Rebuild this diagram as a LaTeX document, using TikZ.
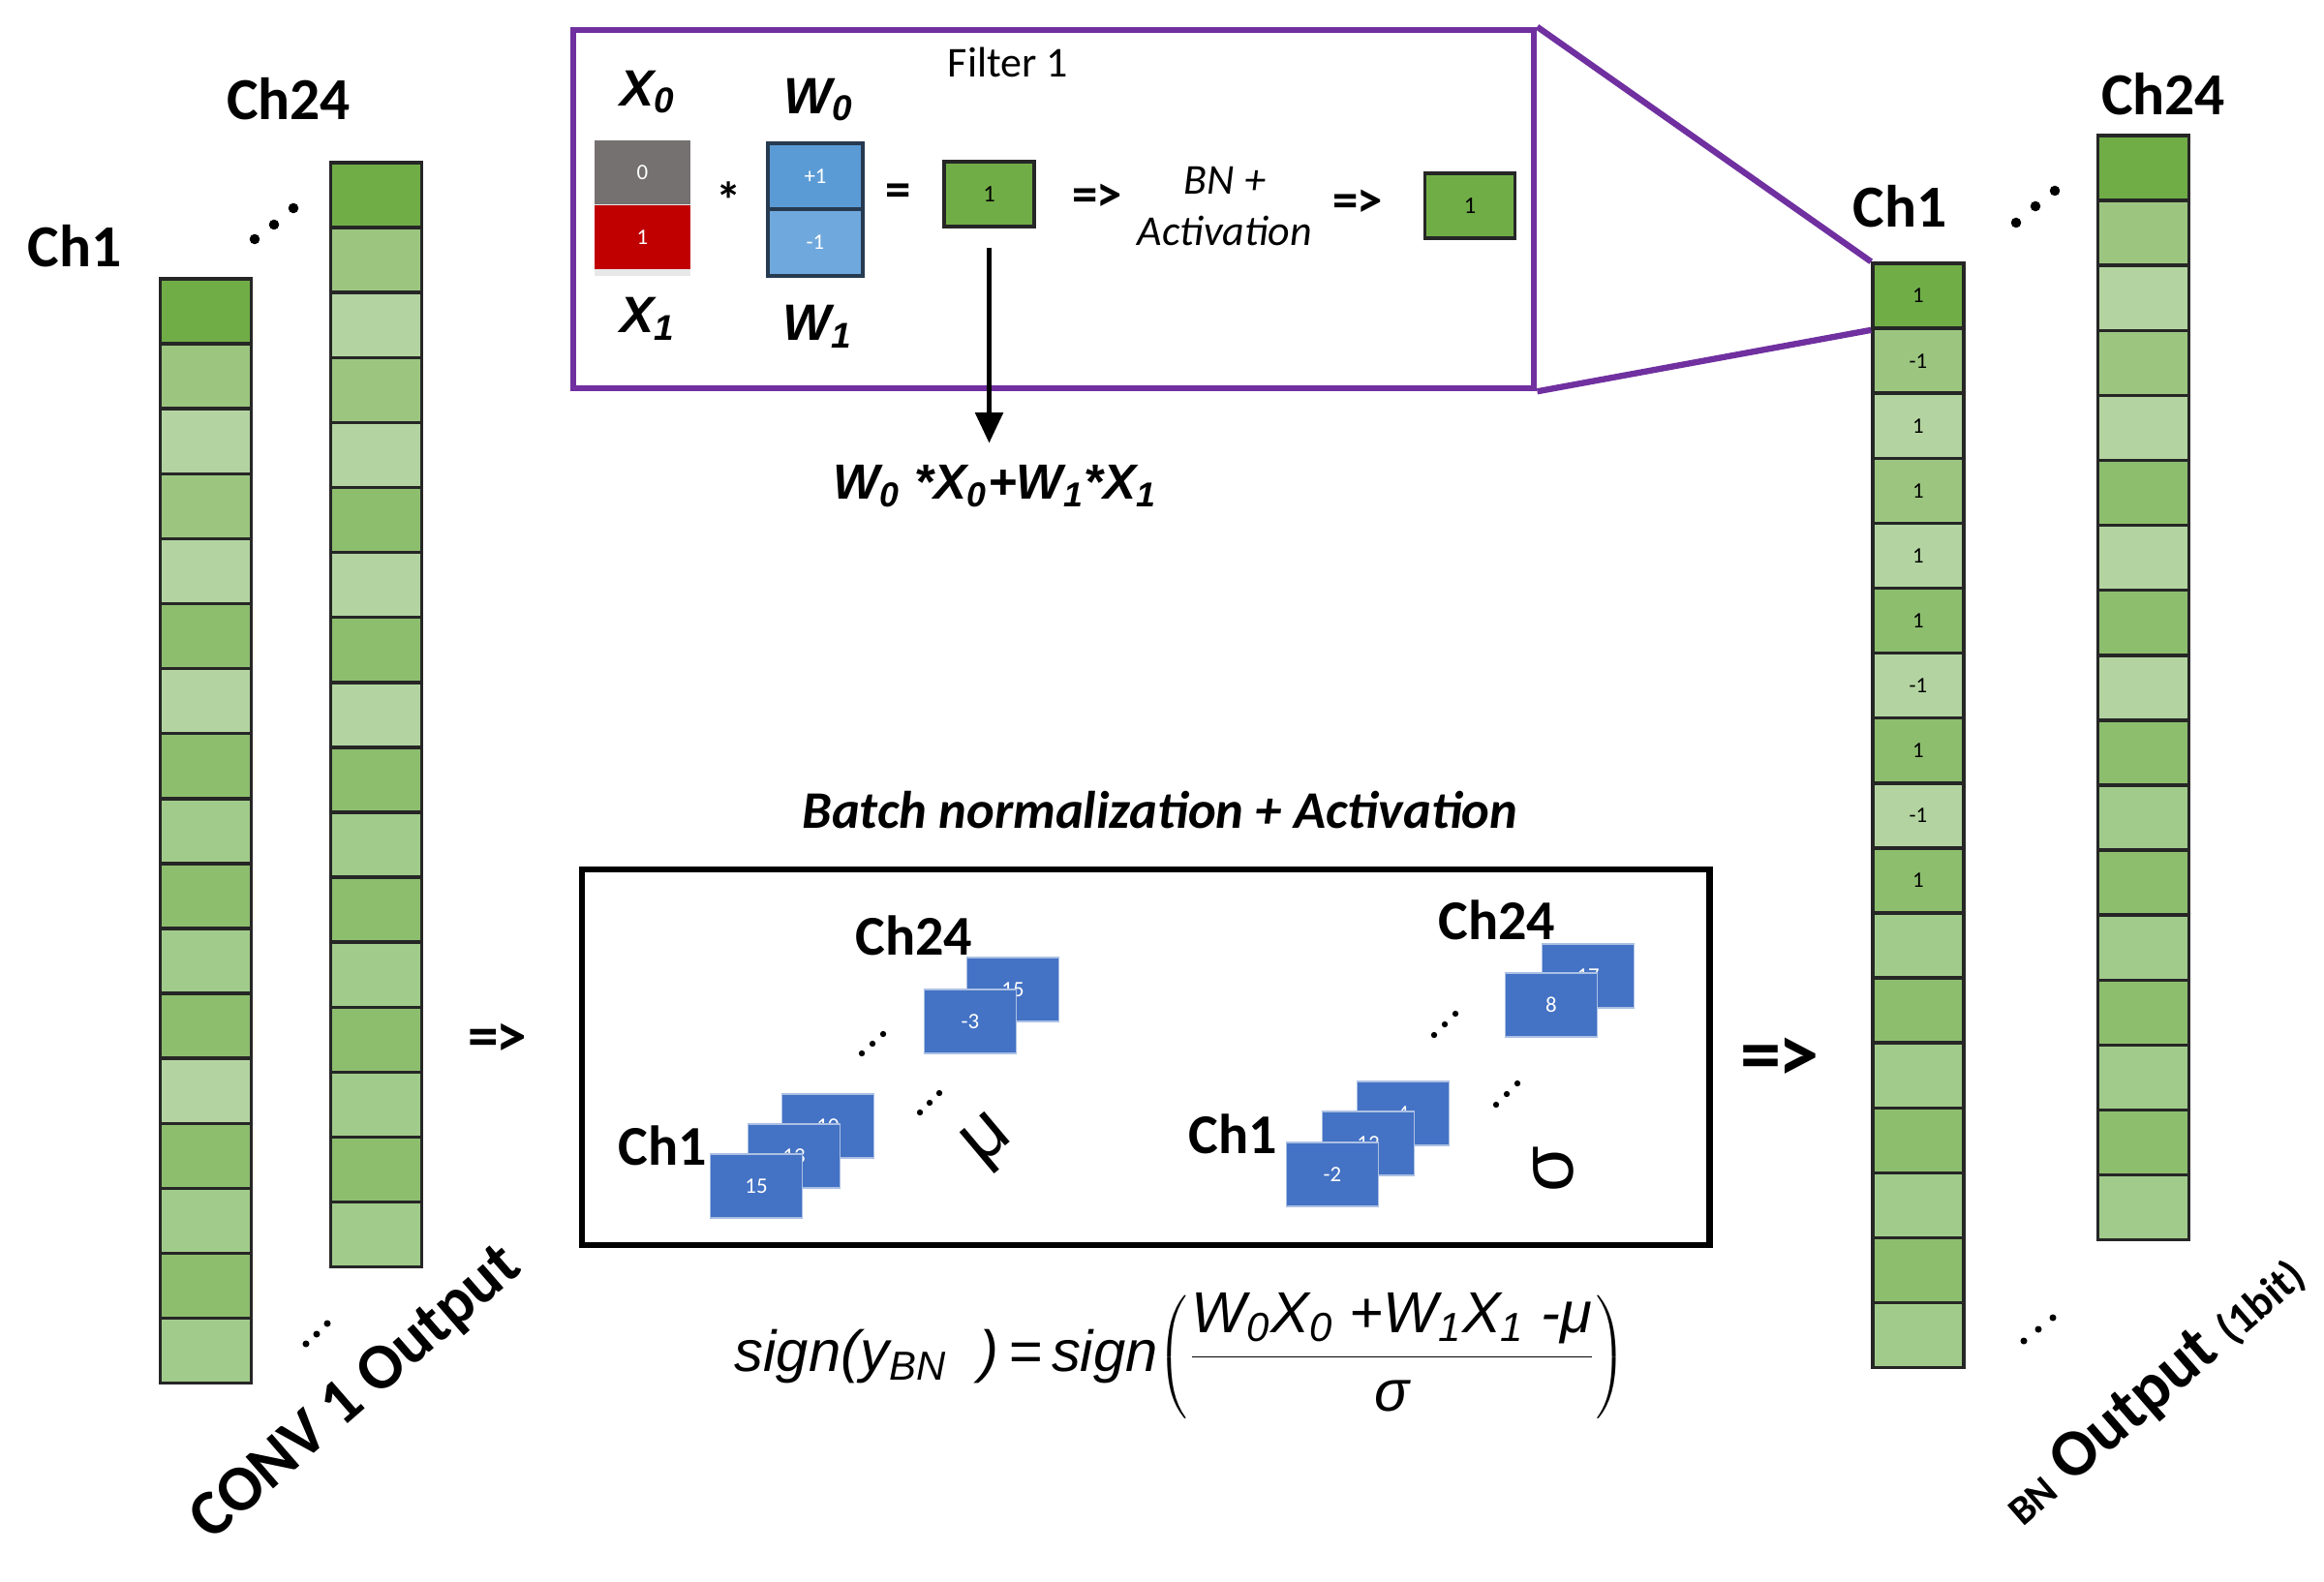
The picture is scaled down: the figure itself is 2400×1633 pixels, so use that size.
\documentclass[tikz,border=0pt]{standalone}
\usepackage{fix-cm}
\usepackage{fontspec}
\setmainfont{Carlito}
\newfontfamily\arialfont{Liberation Sans}
\usepackage{xcolor}
\usepackage{tikz}
\usetikzlibrary{arrows.meta}
\usetikzlibrary{shadows}
\usetikzlibrary{positioning}

\definecolor{gA}{RGB}{112,173,71}
\definecolor{gB}{RGB}{141,190,110}
\definecolor{gC}{RGB}{156,198,128}
\definecolor{gD}{RGB}{179,212,161}
\definecolor{gE}{RGB}{161,203,139}
\definecolor{filtpurple}{RGB}{112,48,160}
\definecolor{xgray}{RGB}{118,113,113}
\definecolor{xred}{RGB}{192,0,0}
\definecolor{wblueA}{RGB}{91,155,213}
\definecolor{wblueB}{RGB}{111,168,220}
\definecolor{wedge}{RGB}{38,58,80}
\definecolor{sqblue}{RGB}{68,114,196}

\newcommand{\impl}{=\kern-0.04em>}

\begin{document}
\begin{tikzpicture}[x=0.01cm,y=-0.01cm, semithick, node distance=0.5cm]
	\tikzstyle{cell}=[draw=black!85, line width=1pt, minimum width=0.94cm, minimum height=0.671cm, inner sep=0pt, font=\fontsize{6.5}{7}\selectfont]
	\tikzstyle{chlab}=[font=\bfseries\fontsize{17.5}{20}\selectfont]
	\tikzstyle{var}=[font=\arialfont\bfseries\itshape\fontsize{15}{18}\selectfont]
	\tikzstyle{op}=[font=\bfseries\fontsize{15}{18}\selectfont]
	\tikzstyle{sq}=[fill=sqblue, draw=sqblue!45!white, line width=0.5pt, minimum width=0.95cm, minimum height=0.66cm, inner sep=0pt, text=white, font=\fontsize{6.5}{7}\selectfont]
	\tikzstyle{filt}=[draw=filtpurple, line width=1.8pt, minimum width=9.92cm, minimum height=3.7cm]
	\tikzstyle{resbox}=[fill=gA, draw=black!85, line width=1pt, minimum width=0.93cm, minimum height=0.67cm, inner sep=0pt, font=\fontsize{7}{8}\selectfont]

	\useasboundingbox (0,0) rectangle (2400,1633);

	% CONV 1 output
	\foreach \c [count=\i] in {gA,gC,gD,gC,gD,gB,gD,gB,gE,gB,gE,gB,gD,gB,gE,gB,gE}
		\node[cell, fill=\c] (cvA\i) at (212.5, {288+67.1*(\i-0.5)}) {};
	\foreach \c [count=\i] in {gA,gC,gD,gC,gD,gB,gD,gB,gD,gB,gE,gB,gE,gB,gE,gB,gE}
		\node[cell, fill=\c] (cvB\i) at (388.5, {168+67.1*(\i-0.5)}) {};
	\node[chlab] (cvAlab) at (77,254) {Ch1};
	\node[chlab] (cvBlab) at (298,102) {Ch24};
	\fill (263,247) circle (1.5pt) (283,232) circle (1.5pt) (303,215) circle (1.5pt);
	\fill (316,1388) circle (1pt) (327,1378) circle (1pt) (338,1367) circle (1pt);
	\node[rotate=41, font=\bfseries\fontsize{19}{22}\selectfont] (cvout) at (369,1440) {CONV 1 Output};

	% BN output
	\foreach \c/\v [count=\i] in {gA/1,gC/-1,gD/1,gC/1,gD/1,gB/1,gD/-1,gB/1,gD/-1,gB/1,gE/,gB/,gE/,gB/,gE/,gB/,gE/}
		\node[cell, fill=\c] (bA\i) at (1981, {272+67.1*(\i-0.5)}) {\v};
	\foreach \c [count=\i] in {gA,gC,gD,gC,gD,gB,gD,gB,gD,gB,gE,gB,gE,gB,gE,gB,gE}
		\node[cell, fill=\c] (bB\i) at (2213.5, {140+67.1*(\i-0.5)}) {};
	\node[chlab] (bAlab) at (1962,213) {Ch1};
	\node[chlab] (bBlab) at (2234,97) {Ch24};
	\fill (2082,230) circle (1.5pt) (2102,213) circle (1.5pt) (2122,197) circle (1.5pt);
	\fill (2090,1385) circle (1pt) (2105,1373) circle (1pt) (2120,1361) circle (1pt);
	\node[rotate=41, font=\bfseries\fontsize{19.5}{24}\selectfont] (bnout) at (2225,1437)
		{{\fontsize{12}{14}\selectfont BN} Output {\fontsize{13}{14}\selectfont (1bit)}};

	% filter 1
	\node[filt] (filt) at (1088,216) {};
	\draw[filtpurple, line width=1.8pt] (filt.north east) -- (bA1.north west);
	\draw[filtpurple, line width=1.8pt] (filt.south east) -- (bA1.south west);
	\node[font=\fontsize{12.5}{15}\selectfont] (filtlab) at (1041,64) {Filter 1};
	\node[fill=xgray, minimum width=0.99cm, minimum height=0.665cm, inner sep=0pt, text=white, font=\fontsize{6.5}{7}\selectfont,
		drop shadow={opacity=0.18, shadow xshift=0pt, shadow yshift=-2pt}] (xtop) at (663.5,178) {0};
	\node[fill=xred, minimum width=0.99cm, minimum height=0.665cm, inner sep=0pt, text=white, font=\fontsize{6.5}{7}\selectfont,
		drop shadow={opacity=0.18, shadow xshift=0pt, shadow yshift=-2pt}] (xbot) at (663.5,245) {1};
	\node[fill=wblueA, draw=wedge, line width=1pt, minimum width=0.98cm, minimum height=0.68cm, inner sep=0pt, text=white, font=\fontsize{6.5}{7}\selectfont] (wtop) at (842,182) {+1};
	\node[fill=wblueB, draw=wedge, line width=1pt, minimum width=0.98cm, minimum height=0.69cm, inner sep=0pt, text=white, font=\fontsize{6.5}{7}\selectfont] (wbot) at (842,250.5) {-1};
	\node[var] (x0lab) at (669,95) {X\textsubscript{0}};
	\node[var] (x1lab) at (669,329) {X\textsubscript{1}};
	\node[var] (w0lab) at (846,103) {W\textsubscript{0}};
	\node[var] (w1lab) at (845,337) {W\textsubscript{1}};
	\node[op] (star) at (753,207) {*};
	\node[op] (eq) at (928,202) {=};
	\node[resbox] (res1) at (1021.5,200.5) {1};
	\node[op] (imp1) at (1133,204) {\impl};
	\node[align=center, font=\itshape\fontsize{12.5}{15}\selectfont] (bnact) at (1265,213) {BN +\\Activation};
	\node[op] (imp2) at (1402,210) {\impl};
	\node[resbox] (res2) at (1518,212.5) {1};
	\node[var, font=\arialfont\bfseries\itshape\fontsize{14.5}{18}\selectfont] (wx) at (1028,502)
		{W\textsubscript{0} *X\textsubscript{0}+W\textsubscript{1}*X\textsubscript{1}};
	\draw[line width=1.5pt, -{Triangle[length=9pt,width=8pt]}] ([yshift=-0.2cm]res1.south) -- ([yshift=0.1cm]res1 |- wx.north);

	% batch normalization + activation
	\node[font=\bfseries\itshape\fontsize{15.5}{18}\selectfont] (bntitle) at (1198,837) {Batch normalization + Activation};
	\node[draw, line width=1.8pt, minimum width=11.64cm, minimum height=3.88cm] (bnbox) at (1183,1092) {};
	% mean
	\node[sq] (mB2) at (1046,1022) {15};
	\node[sq] (mB1) at (1002,1055) {-3};
	\node[font=\bfseries\fontsize{16.5}{20}\selectfont] (mBlab) at (944,966) {Ch24};
	\node[sq] (mA3) at (855,1163) {10};
	\node[sq] (mA2) at (820,1194) {13};
	\node[sq] (mA1) at (781,1225) {15};
	\node[font=\bfseries\fontsize{16.5}{20}\selectfont] (mAlab) at (684,1183) {Ch1};
	\fill (890,1088) circle (0.9pt) (901,1078) circle (0.9pt) (912,1068) circle (0.9pt);
	\fill (950,1149) circle (0.9pt) (960,1139) circle (0.9pt) (970,1129) circle (0.9pt);
	\node[rotate=40, font=\arialfont\fontsize{22}{24}\selectfont] (mu) at (1022,1180) {μ};
	% standard deviation
	\node[sq] (sB2) at (1640,1008) {17};
	\node[sq] (sB1) at (1602,1038) {8};
	\node[font=\bfseries\fontsize{16.5}{20}\selectfont] (sBlab) at (1546,950) {Ch24};
	\node[sq] (sA3) at (1449,1150) {4};
	\node[sq] (sA2) at (1413,1181) {13};
	\node[sq] (sA1) at (1376,1213) {-2};
	\node[font=\bfseries\fontsize{16.5}{20}\selectfont] (sAlab) at (1273,1171) {Ch1};
	\fill (1481,1069) circle (0.9pt) (1492,1058) circle (0.9pt) (1503,1047) circle (0.9pt);
	\fill (1545,1141) circle (0.9pt) (1556,1130) circle (0.9pt) (1567,1119) circle (0.9pt);
	\node[rotate=90, font=\arialfont\fontsize{22}{24}\selectfont] (sigma) at (1604,1208) {σ};

	\node[font=\bfseries\fontsize{18}{20}\selectfont] (impL) at (514,1074) {\impl};
	\node[font=\bfseries\fontsize{24}{26}\selectfont] (impR) at (1838,1095) {\impl};

	\node[font=\arialfont\itshape\fontsize{17}{20}\selectfont] (sgn) at (1219,1400)
		{sign(y\textsubscript{BN}\ \ )\,=\,sign$\left(\displaystyle\frac{\mbox{W\textsubscript{0}X\textsubscript{0} +W\textsubscript{1}X\textsubscript{1} -μ}}{\mbox{σ}}\right)$};
\end{tikzpicture}
\end{document}
